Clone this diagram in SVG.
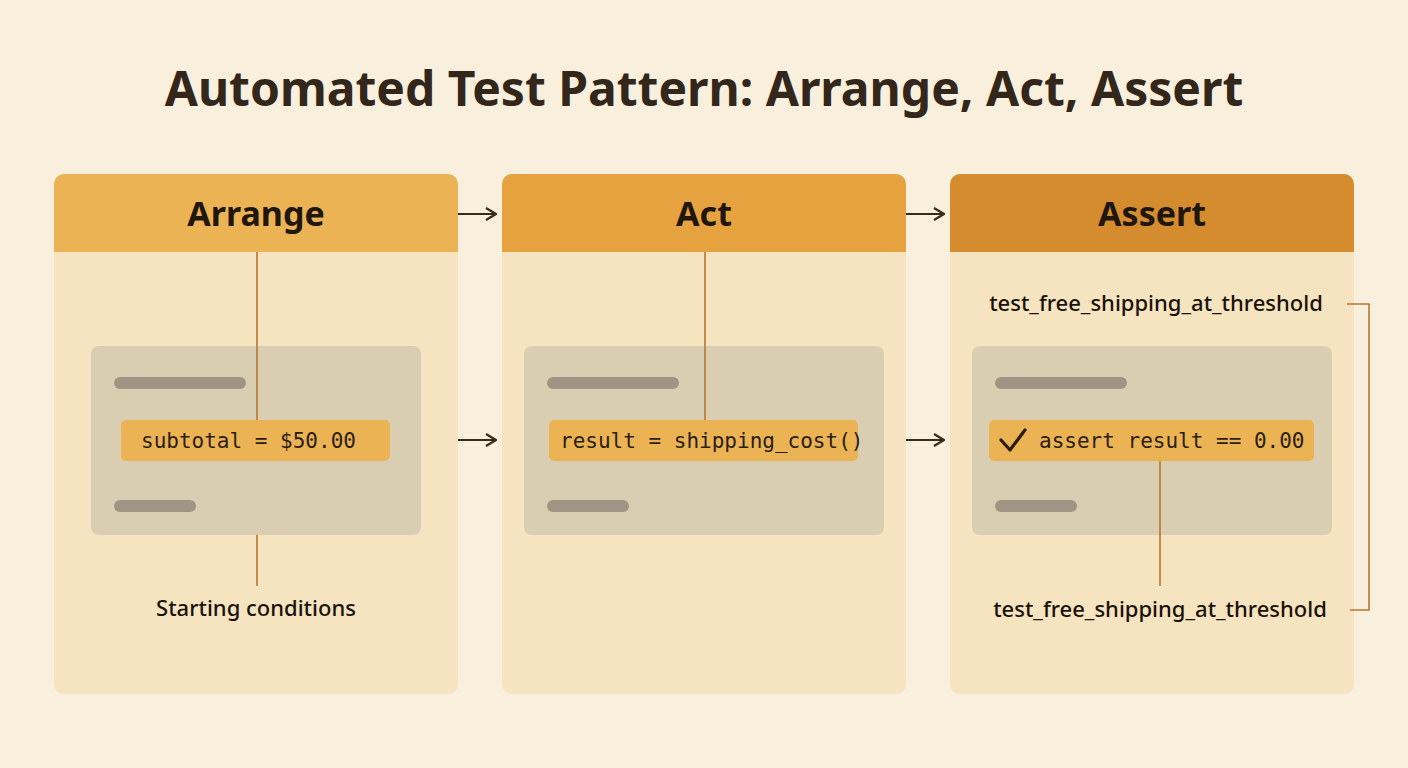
<svg xmlns="http://www.w3.org/2000/svg" width="1408" height="768" viewBox="0 0 1408 768">
<defs>
<marker id="ah" markerWidth="12" markerHeight="14" refX="11" refY="7" orient="auto" markerUnits="userSpaceOnUse"><path d="M1,1 L11,7 L1,13" fill="none" stroke="#3a2a1a" stroke-width="2.2"/></marker>
</defs>
<style>
.title{font-family:"Noto Sans","DejaVu Sans",sans-serif;font-weight:700;font-size:48px;fill:#33261a}
.hdr{font-family:"Noto Sans","DejaVu Sans",sans-serif;font-weight:700;font-size:34px;fill:#1f160e}
.lbl{font-family:"Noto Sans","DejaVu Sans",sans-serif;font-weight:500;font-size:22px;fill:#1a120a}
.code{font-family:"DejaVu Sans Mono",monospace;font-size:21px;fill:#2a1e12}
.body{fill:#F5E4BF}
.box{fill:#D9CDB2}
.bar{stroke:#A09584;stroke-width:12;stroke-linecap:round}
.hl{fill:#ECB355}
.ln{stroke:#B8762E;stroke-width:1.6;fill:none}
.ar{stroke:#3a2a1a;stroke-width:2.2;fill:none}
</style>
<rect width="1408" height="768" fill="#F8EFDC"/>
<text class="title" x="704" y="106" text-anchor="middle">Automated Test Pattern: Arrange, Act, Assert</text>
<g id="arrange">
<rect class="body" x="54" y="174" width="404" height="520" rx="10"/>
<path d="M54,252 V184 a10,10 0 0 1 10,-10 H448 a10,10 0 0 1 10,10 V252 Z" fill="#ECB355"/>
<text class="hdr" x="256" y="226" text-anchor="middle">Arrange</text>
<rect class="box" x="91" y="346" width="330" height="189" rx="8"/>
<line class="bar" x1="120" y1="383" x2="240" y2="383"/>
<line class="bar" x1="120" y1="506" x2="190" y2="506"/>
<rect class="hl" x="121" y="420" width="269" height="41" rx="5"/>
<text class="code" x="141" y="448">subtotal = $50.00</text>
<text class="lbl" x="256" y="616" text-anchor="middle">Starting conditions</text>
</g>
<g id="act">
<rect class="body" x="502" y="174" width="404" height="520" rx="10"/>
<path d="M502,252 V184 a10,10 0 0 1 10,-10 H896 a10,10 0 0 1 10,10 V252 Z" fill="#E5A23E"/>
<text class="hdr" x="704" y="226" text-anchor="middle">Act</text>
<rect class="box" x="524" y="346" width="360" height="189" rx="8"/>
<line class="bar" x1="553" y1="383" x2="673" y2="383"/>
<line class="bar" x1="553" y1="506" x2="623" y2="506"/>
<rect class="hl" x="549" y="420" width="309" height="41" rx="5"/>
<text class="code" x="560" y="448">result = shipping_cost()</text>
</g>
<g id="assert">
<rect class="body" x="950" y="174" width="404" height="520" rx="10"/>
<path d="M950,252 V184 a10,10 0 0 1 10,-10 H1344 a10,10 0 0 1 10,10 V252 Z" fill="#D48C2E"/>
<text class="hdr" x="1152" y="226" text-anchor="middle">Assert</text>
<text class="lbl" x="1156" y="311" text-anchor="middle">test_free_shipping_at_threshold</text>
<rect class="box" x="972" y="346" width="360" height="189" rx="8"/>
<line class="bar" x1="1001" y1="383" x2="1121" y2="383"/>
<line class="bar" x1="1001" y1="506" x2="1071" y2="506"/>
<rect class="hl" x="989" y="420" width="325" height="41" rx="5"/>
<path d="M1001,440 l9,10 l15,-20" fill="none" stroke="#2a1e12" stroke-width="3.2" stroke-linecap="round" stroke-linejoin="round"/>
<text class="code" x="1039" y="448">assert result == 0.00</text>
<text class="lbl" x="1160" y="617" text-anchor="middle">test_free_shipping_at_threshold</text>
</g>
<g id="connectors">
<line class="ar" x1="458" y1="214" x2="496" y2="214" marker-end="url(#ah)"/>
<line class="ar" x1="906" y1="214" x2="944" y2="214" marker-end="url(#ah)"/>
<line class="ar" x1="458" y1="440" x2="496" y2="440" marker-end="url(#ah)"/>
<line class="ar" x1="906" y1="440" x2="944" y2="440" marker-end="url(#ah)"/>
<line class="ln" x1="257" y1="252" x2="257" y2="420"/>
<line class="ln" x1="257" y1="535" x2="257" y2="586"/>
<line class="ln" x1="705" y1="252" x2="705" y2="420"/>
<line class="ln" x1="1160" y1="461" x2="1160" y2="586"/>
<path class="ln" d="M1347,304 H1369 V610 H1350"/>
</g>
</svg>
